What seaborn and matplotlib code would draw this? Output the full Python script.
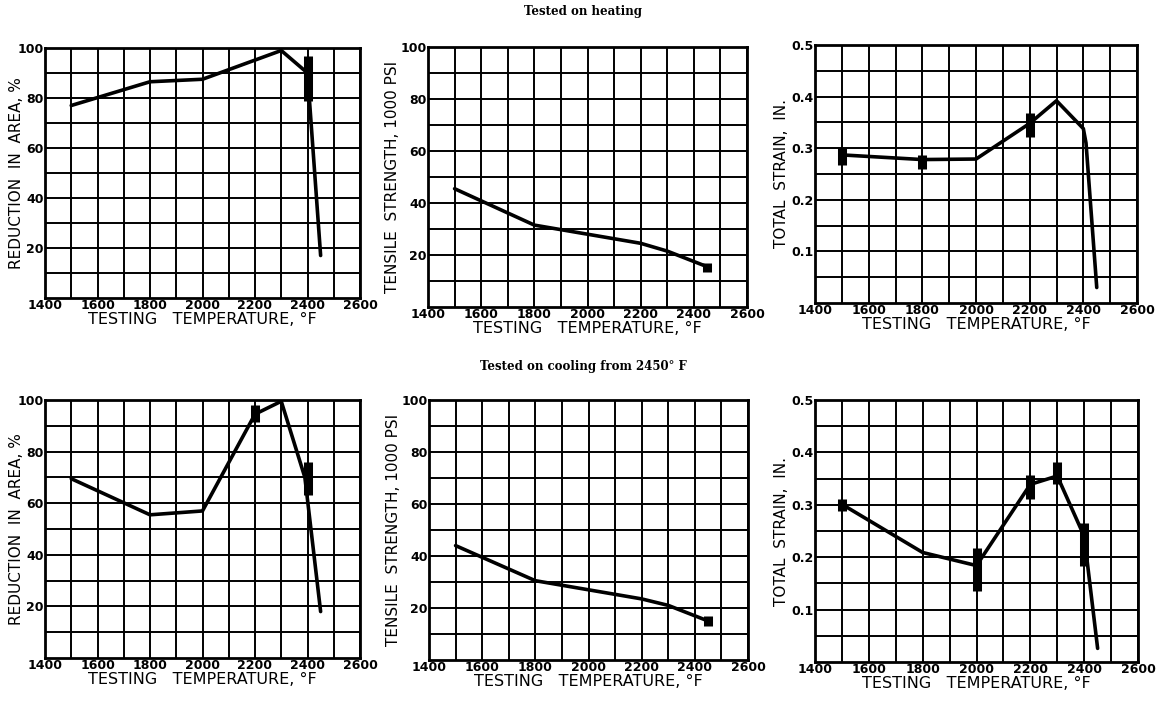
import numpy as np
import pandas as pd
import matplotlib
matplotlib.use("Agg")
import matplotlib.pyplot as plt
import seaborn as sns

sns.set_theme(style="white")
plt.rcParams['font.family'] = ['DejaVu Sans']
plt.rcParams['text.color'] = 'black'
plt.rcParams['axes.labelcolor'] = 'black'
plt.rcParams['xtick.color'] = 'black'
plt.rcParams['ytick.color'] = 'black'

# heating - reduction in area
ra_heat_t = [1500, 1800, 2000, 2300, 2400, 2450]
ra_heat_v = [77, 86.5, 87.5, 99, 90, 17]
ra_heat_bar_t = [2400]
ra_heat_bar_lo = [79]
ra_heat_bar_hi = [97]

# heating - tensile strength
ts_heat_t = [1500, 1800, 2000, 2200, 2300, 2450]
ts_heat_v = [45.5, 31.5, 28, 24.5, 21.5, 15.5]
ts_heat_bar_t = [2450]
ts_heat_bar_lo = [13.5]
ts_heat_bar_hi = [17]

# heating - total strain
st_heat_t = [1500, 1800, 2000, 2200, 2300, 2400, 2410, 2450]
st_heat_v = [0.287, 0.278, 0.279, 0.348, 0.392, 0.338, 0.31, 0.03]
st_heat_bar_t = [1500, 1800, 2200]
st_heat_bar_lo = [0.268, 0.26, 0.322]
st_heat_bar_hi = [0.30, 0.287, 0.369]

# cooling - reduction in area
ra_cool_t = [1500, 1800, 2000, 2200, 2300, 2390, 2450]
ra_cool_v = [69.5, 55.5, 57, 94.5, 99.5, 70, 18]
ra_cool_bar_t = [2200, 2400]
ra_cool_bar_lo = [91.5, 63]
ra_cool_bar_hi = [98, 76]

# cooling - tensile strength
ts_cool_t = [1500, 1800, 2000, 2200, 2300, 2450]
ts_cool_v = [44, 30.5, 27, 23.5, 21, 15]
ts_cool_bar_t = [2450]
ts_cool_bar_lo = [13]
ts_cool_bar_hi = [17]

# cooling - total strain
st_cool_t = [1500, 1800, 2000, 2200, 2300, 2400, 2450]
st_cool_v = [0.301, 0.209, 0.184, 0.339, 0.355, 0.24, 0.026]
st_cool_bar_t = [1500, 2000, 2200, 2300, 2400]
st_cool_bar_lo = [0.289, 0.135, 0.312, 0.339, 0.183]
st_cool_bar_hi = [0.312, 0.218, 0.357, 0.382, 0.266]

x_ticks = [1400, 1600, 1800, 2000, 2200, 2400, 2600]
pct_ticks = [20, 40, 60, 80, 100]
strain_ticks = [0.1, 0.2, 0.3, 0.4, 0.5]

W, H = 1166, 702
fig = plt.figure(figsize=(W / 100, H / 100), dpi=100)


def rect(x0, x1, ytop, ybot):
    return [x0 / W, 1 - ybot / H, (x1 - x0) / W, (ybot - ytop) / H]


def panel(r, t, v, bt, blo, bhi, ylabel, ymax, yticks, ystep, fmt, label_x):
    ax = fig.add_axes(r)
    df = pd.DataFrame({"t": t, "v": v})
    sns.lineplot(data=df, x="t", y="v", ax=ax, color="black", linewidth=2.6,
                 sort=False, solid_capstyle="round", solid_joinstyle="round")
    ax.vlines(bt, blo, bhi, color="black", linewidth=6.5, capstyle="butt")
    ax.set_xlim(1400, 2600)
    ax.set_ylim(0, ymax)
    ax.set_xticks(x_ticks)
    ax.set_xticks(np.arange(1500, 2600, 200), minor=True)
    ax.set_yticks(yticks)
    ax.set_yticks(np.arange(ystep, ymax, ystep * 2), minor=True)
    ax.set_xticklabels([str(x) for x in x_ticks], fontsize=9, fontweight="bold")
    ax.set_yticklabels([fmt(y) for y in yticks], fontsize=9, fontweight="bold")
    ax.grid(True, which="both", color="black", linewidth=1.4)
    ax.tick_params(which="both", length=0, pad=1)
    for s in ax.spines.values():
        s.set_color("black")
        s.set_linewidth(2)
    ax.set_xlabel("TESTING   TEMPERATURE, °F", fontsize=11.5, labelpad=0)
    ax.set_ylabel(ylabel, fontsize=11)
    ax.yaxis.set_label_coords(label_x, 0.5)
    return ax


pct_fmt = lambda y: str(int(y))
strain_fmt = lambda y: f"{y:.1f}"

panel(rect(45, 360, 48, 298), ra_heat_t, ra_heat_v, ra_heat_bar_t, ra_heat_bar_lo,
      ra_heat_bar_hi, "REDUCTION  IN  AREA, %", 100, pct_ticks, 10, pct_fmt, -0.068)
panel(rect(428, 747, 47, 307), ts_heat_t, ts_heat_v, ts_heat_bar_t, ts_heat_bar_lo,
      ts_heat_bar_hi, "TENSILE  STRENGTH, 1000 PSI", 100, pct_ticks, 10, pct_fmt, -0.088)
panel(rect(815, 1137, 45, 303), st_heat_t, st_heat_v, st_heat_bar_t, st_heat_bar_lo,
      st_heat_bar_hi, "TOTAL  STRAIN,  IN.", 0.5, strain_ticks, 0.05, strain_fmt, -0.08)

panel(rect(45, 360, 400, 658), ra_cool_t, ra_cool_v, ra_cool_bar_t, ra_cool_bar_lo,
      ra_cool_bar_hi, "REDUCTION  IN  AREA, %", 100, pct_ticks, 10, pct_fmt, -0.068)
panel(rect(429, 748, 400, 660), ts_cool_t, ts_cool_v, ts_cool_bar_t, ts_cool_bar_lo,
      ts_cool_bar_hi, "TENSILE  STRENGTH, 1000 PSI", 100, pct_ticks, 10, pct_fmt, -0.088)
panel(rect(815, 1138, 400, 662), st_cool_t, st_cool_v, st_cool_bar_t, st_cool_bar_lo,
      st_cool_bar_hi, "TOTAL  STRAIN,  IN.", 0.5, strain_ticks, 0.05, strain_fmt, -0.08)

fig.text(583 / W, 1 - 12 / H, "Tested on heating", ha="center", va="center",
         fontsize=8.5, fontweight="bold", family="DejaVu Serif")
fig.text(583 / W, 1 - 367 / H, "Tested on cooling from 2450° F", ha="center",
         va="center", fontsize=8.5, fontweight="bold", family="DejaVu Serif")

fig.savefig("out.png", dpi=100, facecolor="white")
